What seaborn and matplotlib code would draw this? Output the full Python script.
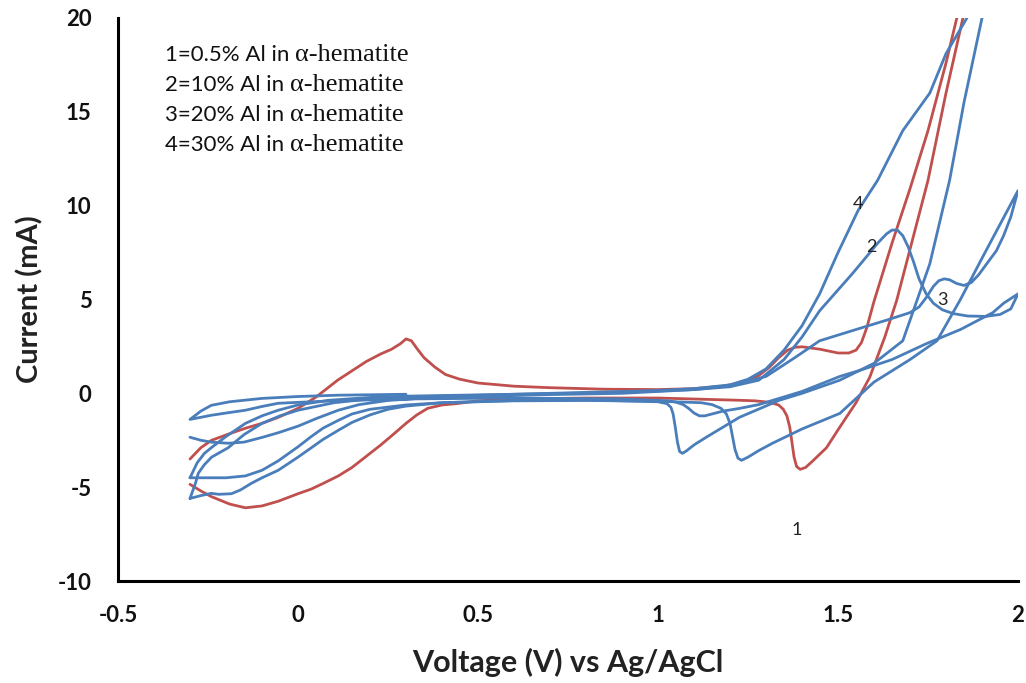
import numpy as np
import pandas as pd
import matplotlib
matplotlib.use("Agg")
import matplotlib.pyplot as plt
import seaborn as sns

# ---------------- data ----------------
# Curve 1 (red): 0.5% Al  (forward scan then reverse scan)
v1 = [-0.30, -0.27, -0.24, -0.19, -0.146, -0.10, -0.055, 0.00, 0.05, 0.11, 0.15, 0.19, 0.23, 0.26,
      0.285, 0.30, 0.315, 0.33, 0.35, 0.38, 0.41, 0.45, 0.50, 0.60, 0.70, 0.85, 1.00, 1.10, 1.18,
      1.24, 1.28, 1.31, 1.335, 1.36, 1.38, 1.40, 1.45, 1.50, 1.53, 1.55, 1.565, 1.58, 1.60,
      1.65, 1.70, 1.75, 1.80, 1.83, 1.90, 2.00,
      1.95, 1.847, 1.80, 1.75, 1.663, 1.63, 1.588, 1.55, 1.505, 1.468, 1.43, 1.41, 1.395, 1.385,
      1.378, 1.372, 1.366, 1.358, 1.348, 1.335, 1.31, 1.27, 1.226, 1.00, 0.80, 0.60, 0.50, 0.44,
      0.40, 0.36, 0.33, 0.30, 0.27, 0.23, 0.19, 0.15, 0.112, 0.07, 0.037, 0.00, -0.055, -0.10,
      -0.146, -0.19, -0.241, -0.27, -0.30]
i1 = [-3.5, -2.9, -2.5, -2.15, -1.86, -1.6, -1.28, -0.8, -0.2, 0.7, 1.2, 1.7, 2.1, 2.35,
      2.65, 2.9, 2.8, 2.4, 1.9, 1.4, 1.0, 0.75, 0.55, 0.38, 0.3, 0.22, 0.2, 0.25, 0.38,
      0.6, 0.95, 1.4, 1.9, 2.3, 2.45, 2.48, 2.35, 2.15, 2.15, 2.3, 2.7, 3.5, 4.9,
      8.0, 10.9, 14.0, 17.6, 20.0, 25.0, 32.0,
      28.0, 20.0, 16.0, 11.35, 4.95, 3.0, 0.85, -0.5, -1.8, -2.9, -3.6, -3.95, -4.05, -3.9,
      -3.4, -2.6, -1.8, -1.2, -0.85, -0.62, -0.48, -0.4, -0.37, -0.25, -0.25, -0.3, -0.4, -0.55,
      -0.62, -0.8, -1.15, -1.6, -2.1, -2.75, -3.35, -3.95, -4.4, -4.8, -5.1, -5.35, -5.75, -6.0,
      -6.1, -5.9, -5.5, -5.2, -4.85]

# Curve 2 (blue): 10% Al
v2 = [-0.30, -0.27, -0.241, -0.194, -0.15, -0.10, -0.055, 0.00, 0.05, 0.112, 0.17, 0.25, 0.35,
      0.60, 0.90, 1.10, 1.20, 1.28, 1.35, 1.40, 1.449, 1.541, 1.58, 1.61, 1.635, 1.65, 1.665,
      1.68, 1.695, 1.71, 1.725, 1.745, 1.765, 1.79, 1.82, 1.86, 1.91, 1.95, 1.98, 2.00,
      1.96, 1.93, 1.84, 1.747, 1.65, 1.56, 1.505, 1.40, 1.28, 1.227, 1.18, 1.15, 1.13, 1.115,
      1.10, 1.085, 1.07, 1.05, 1.03, 0.90, 0.60, 0.30, 0.10, 0.00, -0.055, -0.10, -0.146, -0.20,
      -0.241, -0.30,
      -0.27, -0.241, -0.19, -0.10, 0.00, 0.11, 0.30]
i2 = [-2.34, -2.5, -2.6, -2.66, -2.6, -2.35, -2.1, -1.75, -1.35, -0.9, -0.6, -0.38, -0.25,
      -0.1, 0.0, 0.2, 0.35, 0.7, 1.8, 3.0, 4.4, 6.4, 7.3, 8.0, 8.5, 8.7, 8.7,
      8.4, 7.8, 7.0, 6.1, 5.3, 4.8, 4.45, 4.25, 4.12, 4.1, 4.2, 4.5, 5.3,
      4.8, 4.3, 3.4, 2.66, 1.8, 1.22, 0.9, 0.1, -0.6, -0.8, -0.95, -1.1, -1.2, -1.2,
      -1.05, -0.8, -0.6, -0.47, -0.4, -0.3, -0.25, -0.3, -0.4, -0.48, -0.53, -0.7, -0.9, -1.05,
      -1.17, -1.39,
      -0.95, -0.64, -0.45, -0.27, -0.17, -0.1, -0.05]

# Curve 3 (blue): 20% Al
v3 = [-0.30, -0.28, -0.26, -0.241, -0.20, -0.146, -0.10, -0.055, 0.00, 0.085, 0.20, 0.30, 0.60,
      0.90, 1.10, 1.20, 1.30, 1.38, 1.449, 1.55, 1.635, 1.70, 1.725, 1.745, 1.765, 1.78, 1.795,
      1.81, 1.83, 1.85, 1.87, 1.89, 1.913, 1.94, 1.96, 1.98, 2.00,
      1.95, 1.90, 1.84, 1.775, 1.70, 1.60, 1.505, 1.40, 1.318, 1.28, 1.25, 1.232, 1.222, 1.214,
      1.207, 1.20, 1.19, 1.175, 1.15, 1.12, 1.00, 0.80, 0.60, 0.40, 0.30, 0.20, 0.15, 0.112,
      0.07, 0.037, 0.00, -0.055, -0.10, -0.146, -0.20, -0.241, -0.30]
i3 = [-4.5, -3.7, -3.2, -2.9, -2.3, -1.6, -1.2, -0.9, -0.62, -0.37, -0.22, -0.15, -0.05,
      0.05, 0.2, 0.4, 0.9, 1.9, 2.8, 3.4, 3.9, 4.3, 4.6, 5.1, 5.7, 6.0, 6.1,
      6.05, 5.85, 5.75, 5.9, 6.3, 6.9, 7.6, 8.4, 9.4, 10.8,
      9.0, 7.2, 5.0, 2.8, 1.8, 0.6, -1.07, -1.9, -2.66, -3.05, -3.4, -3.57, -3.45, -3.0,
      -2.3, -1.6, -1.1, -0.8, -0.6, -0.5, -0.42, -0.38, -0.4, -0.5, -0.62, -0.85, -1.1, -1.44,
      -1.85, -2.3, -2.85, -3.6, -4.1, -4.4, -4.5, -4.5, -4.5]

# Curve 4 (blue): 30% Al
v4 = [-0.30, -0.285, -0.277, -0.26, -0.24, -0.194, -0.15, -0.10, -0.05, 0.00, 0.10, 0.20, 0.40,
      0.60, 0.80, 1.00, 1.10, 1.20, 1.25, 1.30, 1.35, 1.40, 1.449, 1.50, 1.556, 1.61, 1.68,
      1.755, 1.80, 1.858, 1.93, 2.00,
      1.90, 1.85, 1.81, 1.755, 1.68, 1.60, 1.505, 1.40, 1.337, 1.226, 1.134, 1.10, 1.08, 1.068,
      1.06, 1.054, 1.048, 1.042, 1.036, 1.025, 1.00, 0.80, 0.60, 0.40, 0.30, 0.25, 0.20, 0.15,
      0.112, 0.07, 0.037, 0.00, -0.055, -0.10, -0.13, -0.16, -0.185, -0.22, -0.241, -0.27, -0.30]
i4 = [-5.6, -4.8, -4.26, -3.8, -3.4, -2.9, -2.2, -1.6, -1.2, -0.9, -0.5, -0.3, -0.15,
      -0.05, 0.05, 0.15, 0.25, 0.45, 0.75, 1.3, 2.3, 3.6, 5.3, 7.5, 9.75, 11.35, 14.0,
      16.0, 18.1, 20.0, 23.0, 28.0,
      20.0, 15.5, 11.35, 6.9, 2.8, 1.6, 0.7, 0.0, -0.37, -1.28, -2.34, -2.75, -3.05, -3.2,
      -3.1, -2.6, -1.8, -1.1, -0.75, -0.55, -0.45, -0.35, -0.38, -0.5, -0.68, -0.85, -1.15, -1.55,
      -1.97, -2.45, -2.9, -3.4, -4.1, -4.5, -4.8, -5.15, -5.35, -5.38, -5.33, -5.45, -5.6]

curve_labels = ["1", "2", "3", "4"]
label_v = [1.385, 1.594, 1.79, 1.555]
label_i = [-7.3, 7.8, 4.95, 10.1]

legend_prefix = ["1=0.5% Al in ", "2=10% Al in ", "3=20% Al in ", "4=30% Al in "]
legend_suffix = "\u03b1-hematite"

x_ticks = [-0.5, 0, 0.5, 1, 1.5, 2]
x_tick_labels = ["-0.5", "0", "0.5", "1", "1.5", "2"]
y_ticks = [-10, -5, 0, 5, 10, 15, 20]
y_tick_labels = ["-10", "-5", "0", "5", "10", "15", "20"]

RED = "#C0504D"
BLUE = "#4A7EBB"

# ---------------- plotting ----------------
sns.set_theme(style="white")
plt.rcParams["font.family"] = ["Lato", "DejaVu Sans"]

W, H = 1026, 683
fig = plt.figure(figsize=(W / 100, H / 100), dpi=100)
ax = fig.add_axes([118 / W, (H - 581) / H, 900 / W, 563 / H])

series = [(v1, i1, RED), (v2, i2, BLUE), (v3, i3, BLUE), (v4, i4, BLUE)]
for vv, ii, col in series:
    df = pd.DataFrame({"Voltage": vv, "Current": ii})
    sns.lineplot(data=df, x="Voltage", y="Current", sort=False, estimator=None,
                 color=col, linewidth=2.0, ax=ax)
for ln in ax.get_lines():
    ln.set_solid_joinstyle("round")
    ln.set_solid_capstyle("round")

ax.set_xlim(-0.5, 2)
ax.set_ylim(-10, 20)
ax.set_xticks(x_ticks)
ax.set_xticklabels(x_tick_labels)
ax.set_yticks(y_ticks)
ax.set_yticklabels(y_tick_labels)

for s in ["top", "right"]:
    ax.spines[s].set_visible(False)
for s in ["left", "bottom"]:
    ax.spines[s].set_color("black")
    ax.spines[s].set_linewidth(2.2)

ax.tick_params(axis="both", direction="out", length=7, width=1.8, color="black",
               labelsize=16, labelcolor="#111111")
ax.tick_params(axis="x", pad=10)
ax.tick_params(axis="y", pad=12)
for lab in ax.get_xticklabels() + ax.get_yticklabels():
    lab.set_fontweight("bold")

ax.set_xlabel("Voltage (V) vs Ag/AgCl", fontsize=22, fontweight="bold", color="#222222", va="center")
ax.set_ylabel("Current (mA)", fontsize=21, fontweight="bold", color="#222222", va="center")
ax.xaxis.set_label_coords(0.5, -(662 - 581) / 563)
ax.yaxis.set_label_coords((30 - 118) / 900, 0.5)

for lab, lv, li in zip(curve_labels, label_v, label_i):
    ax.text(lv, li, lab, fontsize=13, color="#222222", ha="center", va="center")

# legend-like text block (sans part + serif part)
renderer = fig.canvas.get_renderer()
for k, pre in enumerate(legend_prefix):
    yb = 1 - (61 + 30 * k) / H
    t = fig.text(165 / W, yb, pre, fontsize=16, color="#111111", ha="left", va="baseline")
    bb = t.get_window_extent(renderer)
    fig.text(bb.x1 / W, yb, legend_suffix, fontsize=19, color="#111111", ha="left",
             va="baseline", family=["Liberation Serif", "DejaVu Serif"])

fig.savefig("out.png", dpi=100)
